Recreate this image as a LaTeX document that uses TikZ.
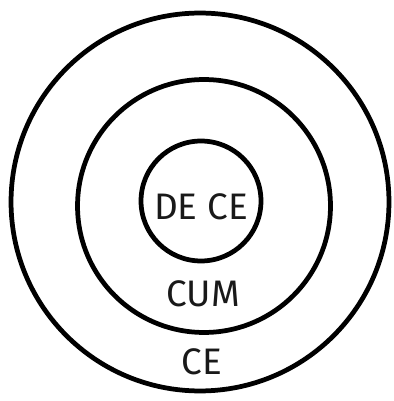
\documentclass[tikz,border=0pt]{standalone}
\usepackage{fontspec}
\setmainfont{Fira Sans}
\usepackage{tikz}

\begin{document}
\begin{tikzpicture}[x=0.02cm,y=0.02cm]
\tikzset{ring/.style={draw,circle,inner sep=0pt,line width=2.7pt},
word/.style={font=\fontsize{21}{23}\selectfont,text=black!90}}
\useasboundingbox (0,0) rectangle (393,-401);
\node (outer) at (200,-202) [ring,minimum size=7.56cm] {};
\node (middle) at (204,-206) [ring,minimum size=5.06cm] {};
\node (inner) at (201,-201) [ring,minimum size=2.4cm] {};

\node (dece) at (201,-207) [word] {DE CE};
\node (cum) at (203,-294) [word] {CUM};
\node (ce) at (202,-362) [word] {CE};
\end{tikzpicture}
\end{document}
